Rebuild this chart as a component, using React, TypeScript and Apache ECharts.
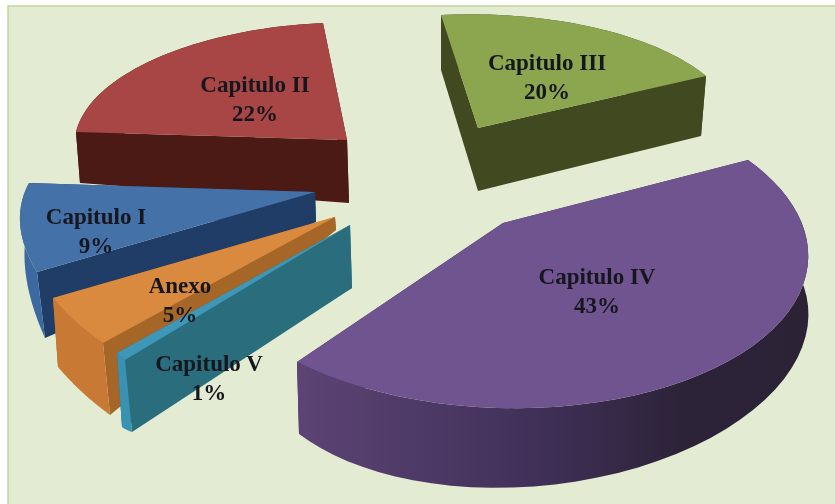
import React, { useEffect, useRef } from "react";
import * as echarts from "echarts";

const categories = ["Capitulo II", "Capitulo III", "Capitulo IV", "Capitulo I", "Anexo", "Capitulo V"];
const values = [22, 20, 43, 9, 5, 1];

type Pt = [number, number];
// Screen frames of every exploded slice: apex, both rim ends, one rim point at fraction f of the sweep.
const topFrames: { c: Pt; a: Pt; b: Pt; m: Pt; f: number }[] = [
  { c: [347, 140], a: [76, 132], b: [323, 23], m: [157, 58], f: 0.5 },
  { c: [478, 128], a: [441, 15], b: [706, 76], m: [596, 28], f: 0.5 },
  { c: [503, 223], a: [748, 160], b: [297, 362], m: [806, 275], f: 0.29 },
  { c: [315, 192], a: [29, 183], b: [37, 272], m: [20, 222], f: 0.5 },
  { c: [335, 217], a: [53, 298], b: [103, 343], m: [76, 322], f: 0.5 },
  { c: [350, 225], a: [117, 353], b: [125, 360], m: [121, 357], f: 0.5 },
];
const bottomFrames: { c: Pt; a: Pt; b: Pt; m: Pt; f: number }[] = [
  { c: [349, 203], a: [80, 183], b: [326, 80], m: [160, 115], f: 0.5 },
  { c: [478, 191], a: [441, 70], b: [701, 136], m: [596, 85], f: 0.5 },
  { c: [503, 290], a: [735, 215], b: [299, 434], m: [726, 429], f: 0.5 },
  { c: [316, 222], a: [30, 218], b: [45, 338], m: [25, 267], f: 0.5 },
  { c: [336, 230], a: [58, 367], b: [110, 415], m: [82, 392], f: 0.5 },
  { c: [352, 288], a: [122, 427], b: [132, 432], m: [127, 430], f: 0.5 },
];
const topColors = ["#a84545", "#8ba64e", "#6f5490", "#4472a8", "#d98a3f", "#3f97b8"];
const rimColors = ["#4b1a15", "#40491f", "", "#3c6aa0", "#c87a35", "#3a92b3"];
const faceColors = ["#4b1a15", "#40491f", "#3a2c50", "#1f3d66", "#a56628", "#2a6d7c"];
const labelCenters: Pt[] = [[255, 99], [547, 77], [597, 291], [96, 231], [180, 300], [209, 378]];
const LINE_HEIGHT = 29;

// Projective map of the unit-circle sweep onto the three screen rim points, so that
// the sweep angle comes from the value while the outline keeps the 3-D perspective.
function rimMaker(fr: { c: Pt; a: Pt; b: Pt; m: Pt; f: number }, sweep: number) {
  const s = Math.sin(sweep);
  const A: Pt = [fr.a[0] - fr.c[0], fr.a[1] - fr.c[1]];
  const B: Pt = [fr.b[0] - fr.c[0], fr.b[1] - fr.c[1]];
  const M: Pt = [fr.m[0] - fr.c[0], fr.m[1] - fr.c[1]];
  const t3 = sweep * fr.f;
  const l = Math.sin(sweep - t3) / s;
  const u = Math.sin(t3) / s;
  const a11 = l * (M[0] - A[0]), a12 = u * (M[0] - B[0]);
  const a21 = l * (M[1] - A[1]), a22 = u * (M[1] - B[1]);
  const r1 = l * A[0] + u * B[0] - M[0];
  const r2 = l * A[1] + u * B[1] - M[1];
  const det = a11 * a22 - a12 * a21;
  const p = Math.abs(det) < 1e-6 ? 0 : (r1 * a22 - a12 * r2) / det;
  const q = Math.abs(det) < 1e-6 ? 0 : (a11 * r2 - r1 * a21) / det;
  return (t: number): Pt => {
    const la = Math.sin(sweep - t) / s;
    const mu = Math.sin(t) / s;
    const w = 1 + la * p + mu * q;
    return [
      fr.c[0] + (la * A[0] * (1 + p) + mu * B[0] * (1 + q)) / w,
      fr.c[1] + (la * A[1] * (1 + p) + mu * B[1] * (1 + q)) / w,
    ];
  };
}

const STEPS = 48;

export default function App() {
  const ref = useRef<HTMLDivElement>(null);
  useEffect(() => {
    document.body.style.margin = "0";
    const chart = echarts.init(ref.current!, undefined, { renderer: "svg" });
    const rimGradient = new echarts.graphic.LinearGradient(0, 0, 1, 0, [
      { offset: 0, color: "#5c4474" },
      { offset: 0.45, color: "#41315a" },
      { offset: 0.75, color: "#2d2339" },
      { offset: 1, color: "#2c2236" },
    ]);
    const seriesData = values.map((v, i) => ({ value: [v], name: categories[i] }));
    chart.setOption({
      animation: false,
      graphic: [
        {
          type: "rect",
          z: -10,
          shape: { x: 8, y: 6, width: 840, height: 510 },
          style: { fill: "#e3ebd2", stroke: "#c3d69b", lineWidth: 1.5 },
        },
      ],
      series: [
        {
          type: "custom",
          coordinateSystem: "none",
          z: 2,
          data: seriesData,
          renderItem: (params: any, api: any) => {
            const i = params.dataIndex;
            const v = api.value(0) as number;
            const sweep = (v * 3.6 * Math.PI) / 180;
            const top = topFrames[i];
            const bot = bottomFrames[i];
            const rt = rimMaker(top, sweep);
            const rb = rimMaker(bot, sweep);
            const upper: Pt[] = [];
            const lower: Pt[] = [];
            for (let k = 0; k <= STEPS; k++) {
              const t = (sweep * k) / STEPS;
              upper.push(rt(t));
              lower.push(rb(t));
            }
            const poly = (points: Pt[], fill: any) => ({
              type: "polygon",
              shape: { points },
              style: { fill, stroke: "none" },
            });
            return {
              type: "group",
              children: [
                poly([top.c, top.a, bot.a, bot.c], faceColors[i]),
                poly([top.c, top.b, bot.b, bot.c], faceColors[i]),
                poly([...upper, ...lower.slice().reverse()], rimColors[i] || rimGradient),
                poly([top.c, ...upper], topColors[i]),
              ],
            };
          },
        },
        {
          type: "custom",
          coordinateSystem: "none",
          z: 5,
          data: seriesData,
          renderItem: (params: any, api: any) => {
            const i = params.dataIndex;
            const v = api.value(0) as number;
            return {
              type: "text",
              style: {
                x: labelCenters[i][0],
                y: labelCenters[i][1],
                text: `${categories[i]}\n${v}%`,
                align: "center",
                verticalAlign: "middle",
                lineHeight: LINE_HEIGHT,
                fontFamily: "Liberation Serif",
                fontWeight: "bold",
                fontSize: 23,
                fill: "#16161e",
              },
            };
          },
        },
      ],
    });
    return () => chart.dispose();
  }, []);
  return <div ref={ref} style={{ width: 835, height: 504, filter: "blur(0.5px)" }} />;
}
